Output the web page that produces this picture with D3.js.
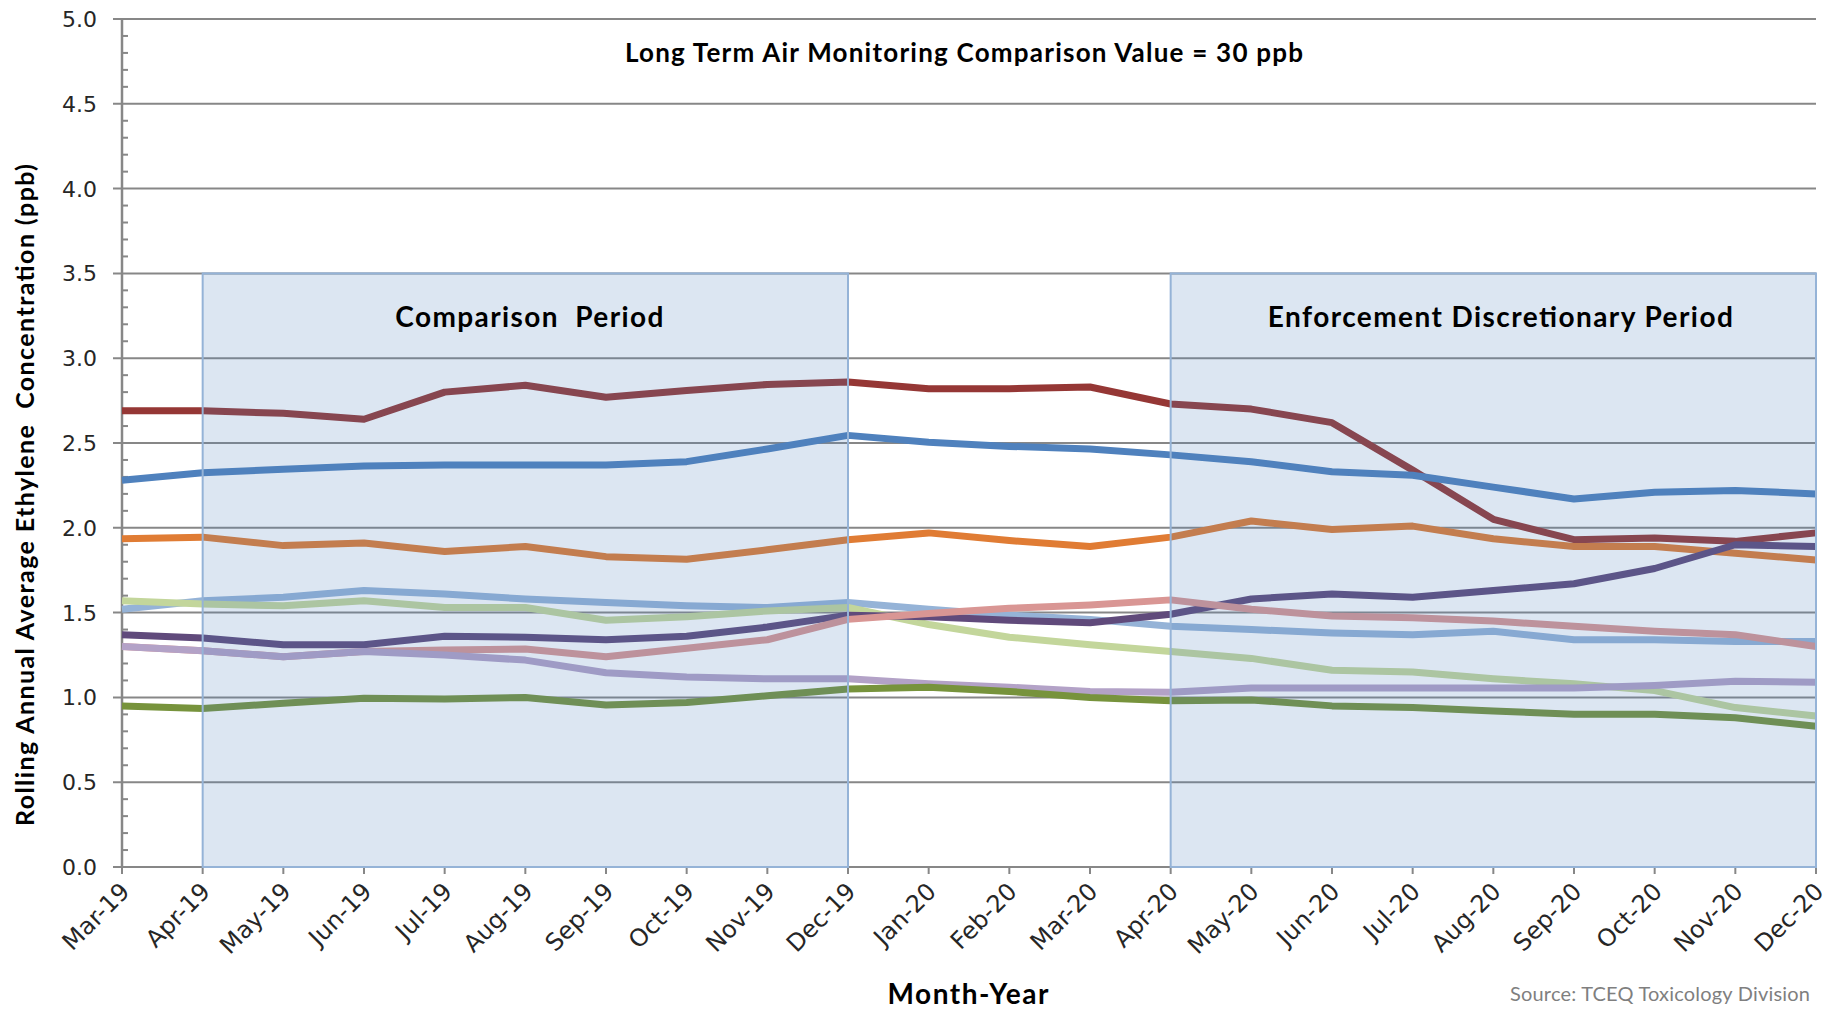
<html>
<head>
<style>
body { margin: 0; background: #fff; }
.grid line { stroke: #878787; stroke-width: 2px; }
.ytick { font-family: "DejaVu Sans", sans-serif; font-size: 22px; fill: #262626; }
.xtick { font-family: "DejaVu Sans", sans-serif; font-size: 24px; fill: #262626; }
.bold { font-family: Lato, "Open Sans", sans-serif; font-weight: bold; fill: #000; white-space: pre; }
.series { fill: none; stroke-width: 7px; stroke-linejoin: round; }
.period { fill: rgba(79,129,189,0.2); stroke: #95b3d7; stroke-width: 2px; }
</style>
</head>
<body>
<svg width="1832" height="1011"></svg>
<script src="https://d3js.org/d3.v7.min.js"></script>
<script>
const months = ["Mar-19","Apr-19","May-19","Jun-19","Jul-19","Aug-19","Sep-19","Oct-19","Nov-19","Dec-19",
    "Jan-20","Feb-20","Mar-20","Apr-20","May-20","Jun-20","Jul-20","Aug-20","Sep-20","Oct-20","Nov-20","Dec-20"]
const yTicks = [0, 0.5, 1, 1.5, 2, 2.5, 3, 3.5, 4, 4.5, 5]

// one line per monitoring site, rolling annual average (ppb)
const siteRed = [2.69,2.69,2.675,2.64,2.80,2.84,2.77,2.81,2.845,2.86,2.82,2.82,2.83,2.73,2.70,2.62,2.34,2.05,1.93,1.94,1.92,1.97]
const siteBlue = [2.28,2.325,2.345,2.365,2.37,2.37,2.37,2.39,2.465,2.545,2.505,2.48,2.465,2.43,2.39,2.33,2.31,2.24,2.17,2.21,2.22,2.20]
const siteOrange = [1.935,1.945,1.895,1.91,1.86,1.89,1.83,1.815,1.87,1.93,1.97,1.925,1.89,1.945,2.04,1.99,2.01,1.935,1.89,1.89,1.85,1.81]
const siteLightBlue = [1.52,1.57,1.59,1.63,1.61,1.58,1.56,1.54,1.53,1.56,1.52,1.485,1.46,1.42,1.40,1.38,1.37,1.39,1.34,1.34,1.33,1.33]
const siteLightGreen = [1.57,1.55,1.54,1.57,1.53,1.53,1.455,1.475,1.51,1.53,1.43,1.355,1.31,1.27,1.23,1.16,1.15,1.11,1.08,1.04,0.94,0.89]
const sitePurple = [1.37,1.35,1.31,1.31,1.36,1.355,1.34,1.36,1.415,1.485,1.475,1.455,1.44,1.49,1.58,1.61,1.59,1.63,1.67,1.76,1.90,1.89]
const sitePink = [1.30,1.275,1.24,1.27,1.28,1.285,1.24,1.29,1.34,1.46,1.495,1.525,1.545,1.575,1.52,1.48,1.47,1.45,1.42,1.39,1.37,1.30]
const siteLavender = [1.30,1.275,1.24,1.27,1.25,1.22,1.145,1.12,1.11,1.11,1.08,1.06,1.035,1.03,1.055,1.055,1.055,1.055,1.055,1.07,1.095,1.09]
const siteGreen = [0.95,0.935,0.965,0.995,0.99,1.0,0.955,0.97,1.01,1.05,1.06,1.035,1.0,0.98,0.985,0.95,0.94,0.92,0.90,0.90,0.88,0.83]

const seriesList = [
    { values: siteRed, color: "#953735" },
    { values: siteBlue, color: "#4f81bd" },
    { values: siteOrange, color: "#e07c34" },
    { values: siteLightBlue, color: "#95b3d7" },
    { values: siteLightGreen, color: "#c3d69b" },
    { values: sitePurple, color: "#604a7b" },
    { values: sitePink, color: "#d99694" },
    { values: siteLavender, color: "#b3a2c7" },
    { values: siteGreen, color: "#77933c" }
]

const periods = [
    { label: "Comparison  Period", from: "Apr-19", to: "Dec-19", top: 3.5 },
    { label: "Enforcement Discretionary Period", from: "Apr-20", to: "Dec-20", top: 3.5 }
]

const svg = d3.select('svg')
const plotLeft = 122, plotRight = 1816, plotTop = 19, plotBottom = 867

const x = d3.scalePoint().domain(months).range([plotLeft, plotRight])
const y = d3.scaleLinear().domain([0, 5]).range([plotBottom, plotTop])

// gridlines
svg.append('g').attr('class', 'grid')
    .selectAll('line').data(yTicks).enter().append('line')
    .attr('x1', plotLeft - 9).attr('x2', plotRight)
    .attr('y1', d => y(d)).attr('y2', d => y(d))

// minor ticks on y axis (inside)
svg.append('g').selectAll('line').data(d3.range(0, 50).filter(i => i % 5 != 0).map(i => i / 10))
    .enter().append('line')
    .attr('x1', plotLeft).attr('x2', plotLeft + 6)
    .attr('y1', d => y(d)).attr('y2', d => y(d))
    .attr('stroke', '#878787').attr('stroke-width', 2)

// y axis line
svg.append('line').attr('x1', plotLeft).attr('x2', plotLeft).attr('y1', plotTop).attr('y2', plotBottom + 1)
    .attr('stroke', '#878787').attr('stroke-width', 2.5)

// x axis ticks
svg.append('g').selectAll('line').data(months).enter().append('line')
    .attr('x1', d => x(d)).attr('x2', d => x(d))
    .attr('y1', plotBottom).attr('y2', plotBottom + 7)
    .attr('stroke', '#878787').attr('stroke-width', 2)

// y tick labels
svg.append('g').selectAll('text').data(yTicks).enter().append('text')
    .attr('class', 'ytick')
    .attr('x', plotLeft - 25).attr('y', d => y(d) + 8)
    .attr('text-anchor', 'end')
    .text(d => d3.format('.1f')(d))

// x tick labels
svg.append('g').selectAll('text').data(months).enter().append('text')
    .attr('class', 'xtick')
    .attr('text-anchor', 'end')
    .attr('transform', d => 'translate(' + (x(d) + 9) + ',' + (plotBottom + 26) + ') rotate(-45)')
    .text(d => d)

// lines
const line = d3.line().x((d, i) => x(months[i])).y(d => y(d))
svg.append('g').selectAll('path').data(seriesList).enter().append('path')
    .attr('class', 'series')
    .attr('stroke', d => d.color)
    .attr('d', d => line(d.values))

// shaded periods on top
svg.append('g').selectAll('rect').data(periods).enter().append('rect')
    .attr('class', 'period')
    .attr('x', d => x(d.from)).attr('width', d => x(d.to) - x(d.from))
    .attr('y', d => y(d.top)).attr('height', d => y(0) - y(d.top))

svg.append('g').selectAll('text').data(periods).enter().append('text')
    .attr('class', 'bold')
    .attr('x', d => (x(d.from) + x(d.to)) / 2 + (d.from == "Apr-19" ? 4 : 7))
    .attr('y', 327)
    .attr('text-anchor', 'middle')
    .style('font-size', '28px')
    .attr('textLength', d => d.from == "Apr-19" ? 268 : 465)
    .text(d => d.label)

svg.append('text').attr('class', 'bold')
    .attr('x', 964).attr('y', 62).attr('text-anchor', 'middle')
    .style('font-size', '26px')
    .attr('textLength', 678)
    .text('Long Term Air Monitoring Comparison Value = 30 ppb')

svg.append('text').attr('class', 'bold')
    .attr('transform', 'translate(34,495) rotate(-90)')
    .attr('text-anchor', 'middle')
    .style('font-size', '25px')
    .attr('textLength', 662)
    .text('Rolling Annual Average Ethylene  Concentration (ppb)')

svg.append('text').attr('class', 'bold')
    .attr('x', 968).attr('y', 1004).attr('text-anchor', 'middle')
    .style('font-size', '28px')
    .attr('textLength', 161)
    .text('Month-Year')

svg.append('text')
    .attr('x', 1810).attr('y', 1001).attr('text-anchor', 'end')
    .style('font-family', 'Lato, "Open Sans", sans-serif')
    .style('font-size', '20px').style('fill', '#7f7f7f')
    .attr('textLength', 300)
    .text('Source: TCEQ Toxicology Division')
</script>
</body>
</html>
